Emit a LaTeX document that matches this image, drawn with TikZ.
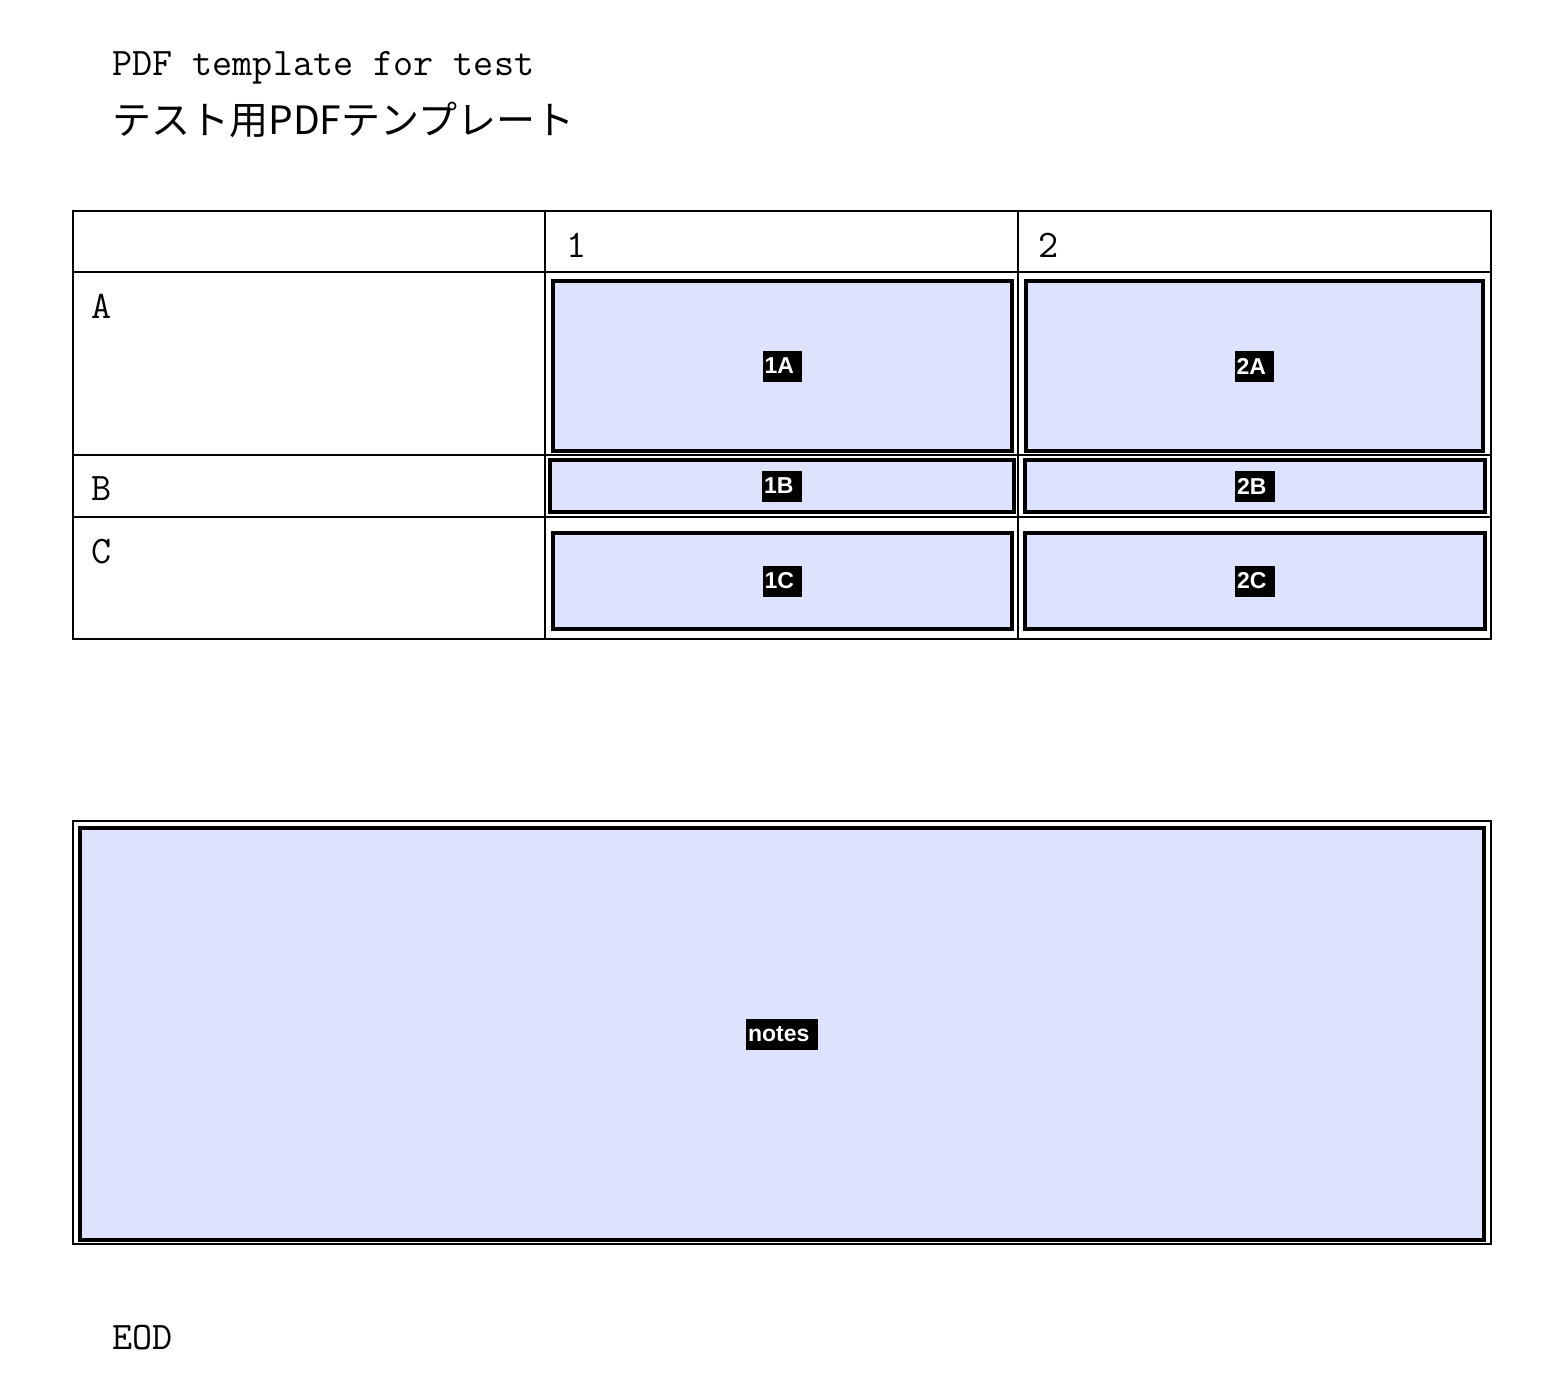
\documentclass[tikz,border=0pt]{standalone}
\usepackage{fontspec}
\newfontfamily\jpfont{Noto Sans CJK JP}
\newfontfamily\labelfont{Liberation Sans}
\definecolor{cellblue}{RGB}{221,227,255}
\newcommand\tagspace{\kern0.28em}
\begin{document}
\begin{tikzpicture}[x=0.5pt,y=-0.5pt,
  mono/.style={font=\ttfamily\fontsize{19.5}{22}\selectfont, inner sep=0pt, anchor=base west},
  jp/.style={font=\jpfont\fontsize{19.5}{24}\selectfont, inner sep=0pt, anchor=base west},
  frame/.style={draw=black, line width=1pt, inner sep=0pt},
  bluebox/.style={draw=black, fill=cellblue, line width=2pt, inner sep=0pt},
  tag/.style={fill=black, text=white, font=\labelfont\bfseries\fontsize{11.5}{13}\selectfont, inner xsep=1pt, inner ysep=0pt, minimum height=15.5pt}
]
\useasboundingbox (0,0) rectangle (1558,1376);
\fill[white] (0,0) rectangle (1558,1376);

% title
\node[mono] (t1) at (112,75) {PDF template for test};
\node[jp] (t2) at (112,134) {テスト用PDFテンプレート};

% table
\node[frame, minimum width=709pt, minimum height=214pt] (tbl) at (782,425) {};
\draw[line width=1pt] (73,272) -- (1491,272);
\draw[line width=1pt] (73,455) -- (1491,455);
\draw[line width=1pt] (73,517) -- (1491,517);
\draw[line width=1pt] (545,211) -- (545,639);
\draw[line width=1pt] (1018,211) -- (1018,639);

\node[mono] (h1) at (566,257) {1};
\node[mono] (h2) at (1038,257) {2};
\node[mono] (rA) at (91,318) {A};
\node[mono] (rB) at (91,500) {B};
\node[mono] (rC) at (91,563) {C};

% cells
\node[bluebox, minimum width=229.5pt, minimum height=85pt] (b1A) at (782.5,366) {};
\node[bluebox, minimum width=228.5pt, minimum height=85pt] (b2A) at (1254.5,366) {};
\node[bluebox, minimum width=232pt, minimum height=26pt] (b1B) at (782,486) {};
\node[bluebox, minimum width=230pt, minimum height=26pt] (b2B) at (1255,486) {};
\node[bluebox, minimum width=229.5pt, minimum height=48pt] (b1C) at (782.5,581) {};
\node[bluebox, minimum width=230pt, minimum height=48pt] (b2C) at (1255,581) {};

\node[tag] (l1A) at (b1A.center) {1A\tagspace};
\node[tag] (l2A) at (b2A.center) {2A\tagspace};
\node[tag] (l1B) at (b1B.center) {1B\tagspace};
\node[tag] (l2B) at (b2B.center) {2B\tagspace};
\node[tag] (l1C) at (b1C.center) {1C\tagspace};
\node[tag] (l2C) at (b2C.center) {2C\tagspace};

% notes
\node[frame, minimum width=709pt, minimum height=211.5pt] (nout) at (782,1032.5) {};
\node[bluebox, minimum width=702pt, minimum height=206pt] (nin) at (782,1034) {};
\node[tag] (lnotes) at (nin.center) {notes\tagspace};

% end
\node[mono] (eod) at (112,1349) {EOD};
\end{tikzpicture}
\end{document}
